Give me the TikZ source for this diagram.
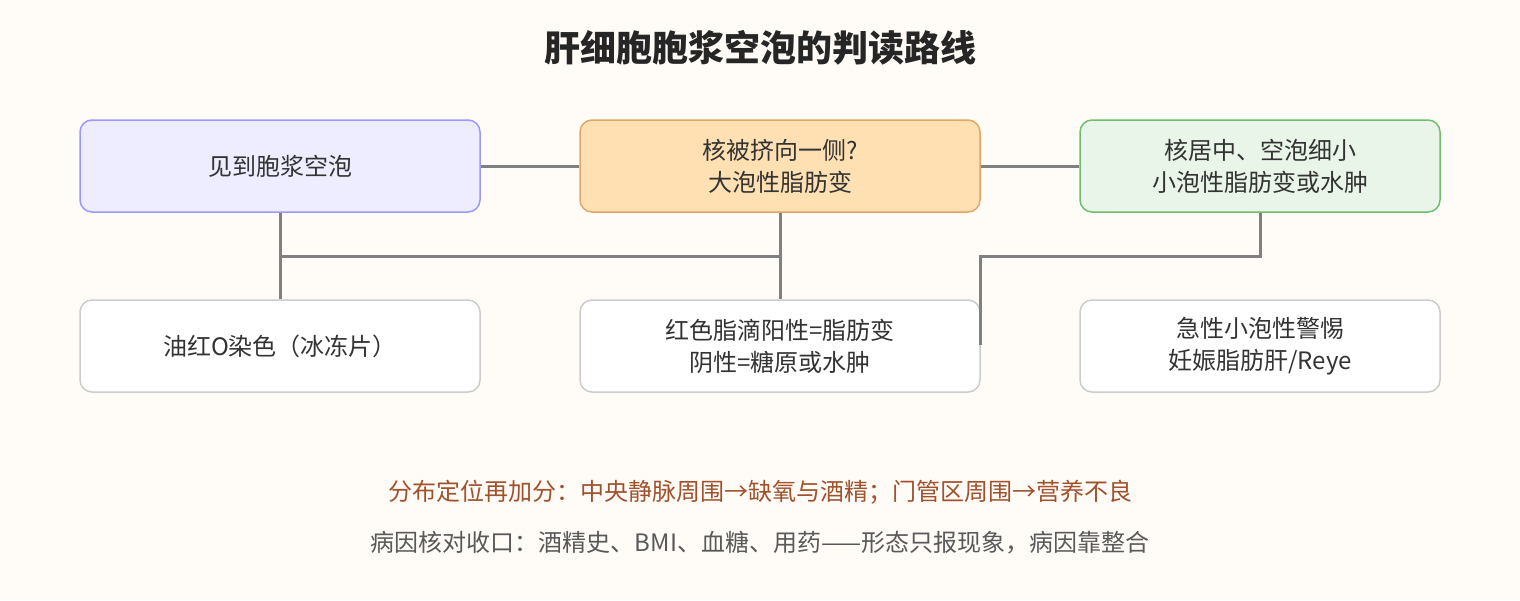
\documentclass[tikz,border=0pt]{standalone}
\usepackage{fontspec}
\setmainfont{Noto Sans CJK SC}
\definecolor{sienna}{HTML}{A0522D}
\definecolor{orgfill}{HTML}{FFE0B2}
\definecolor{orgdraw}{HTML}{E0A868}
\definecolor{grnfill}{HTML}{E8F5E8}
\definecolor{grndraw}{HTML}{6DBF6D}
\begin{document}
\begin{tikzpicture}[x=1pt,y=-1pt,
  box/.style={draw,line width=1.5pt,rounded corners=12pt,minimum width=400pt,minimum height=92pt,align=center,font=\fontsize{24}{32}\selectfont,text=black!80},
  blue/.style={box,fill=blue!7,draw=blue!40},
  org/.style={box,fill=orgfill,draw=orgdraw},
  grn/.style={box,fill=grnfill,draw=grndraw,minimum width=360pt},
  wht/.style={box,fill=white,draw=black!20},
  conn/.style={draw=black!50,line width=3pt}]
\fill[white!97!orange] (0,0) rectangle (1520,600);
\useasboundingbox (0,0) rectangle (1520,600);
\node[font=\fontsize{36}{40}\selectfont\bfseries,text=black!85] (t) at (760,48) {肝细胞胞浆空泡的判读路线};
\node[blue] (a) at (280,166) {见到胞浆空泡};
\node[org] (b) at (780,166) {核被挤向一侧?\\ 大泡性脂肪变};
\node[grn] (c) at (1260,166) {核居中、空泡细小\\小泡性脂肪变或水肿};
\node[wht] (d) at (280,346) {油红O染色（冰冻片）};
\node[wht] (e) at (780,346) {红色脂滴阳性=脂肪变\\阴性=糖原或水肿};
\node[wht,minimum width=360pt] (f) at (1260,346) {急性小泡性警惕\\妊娠脂肪肝/Reye};
\coordinate (j) at (780,256);
\coordinate (k) at (980,345);
\draw[conn] (a.east) -- (b.west);
\draw[conn] (b.east) -- (c.west);
\draw[conn] (a.south) -- (d.north);
\draw[conn] (b.south) -- (e.north);
\draw[conn] (a.south |- j) -- (j);
\draw[conn] (c.south) -- (1260,256) -- (980,256) -- (k);
\node[font=\fontsize{24}{28}\selectfont,text=sienna] (n1) at (760,492) {分布定位再加分：中央静脉周围→缺氧与酒精；门管区周围→营养不良};
\node[font=\fontsize{24}{28}\selectfont,text=black!65] (n2) at (760,543) {病因核对收口：酒精史、BMI、血糖、用药——形态只报现象，病因靠整合};
\end{tikzpicture}
\end{document}
